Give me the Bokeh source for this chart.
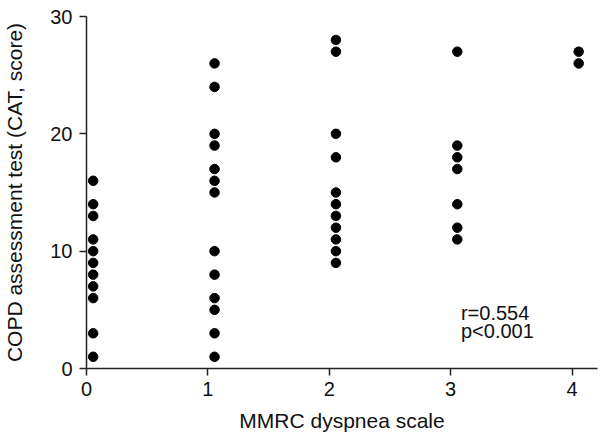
from bokeh.plotting import figure
from bokeh.models import Range1d, Label, FixedTicker
from bokeh.embed import file_html
from bokeh.resources import INLINE

# MMRC dyspnea scale groups and CAT scores
mmrc_groups = [0, 1, 2, 3, 4]
cat_0 = [16, 14, 13, 11, 10, 9, 8, 7, 6, 3, 1]
cat_1 = [26, 24, 20, 19, 17, 16, 15, 10, 8, 6, 5, 3, 1]
cat_2 = [28, 27, 20, 18, 15, 14, 13, 12, 11, 10, 9]
cat_3 = [27, 19, 18, 17, 14, 12, 11]
cat_4 = [27, 26]
x_offset = 0.055  # dots sit just right of each tick
x_ticks = [0, 1, 2, 3, 4]
y_ticks = [0, 10, 20, 30]
stats_lines = ["r=0.554", "p<0.001"]

series = [cat_0, cat_1, cat_2, cat_3, cat_4]
xs, ys = [], []
for g, vals in zip(mmrc_groups, series):
    for v in vals:
        xs.append(g + x_offset)
        ys.append(v)

FONT = "Liberation Sans"

p = figure(width=600, height=438, output_backend="svg", toolbar_location=None,
           x_range=Range1d(0, 4.21), y_range=Range1d(0, 30),
           min_border_left=85, min_border_right=3, min_border_top=16, min_border_bottom=70)
p.outline_line_color = None
p.xgrid.visible = False
p.ygrid.visible = False
p.background_fill_color = "white"

p.scatter(xs, ys, size=9.5, color="black", line_color="black")

for ax in (p.xaxis[0], p.yaxis[0]):
    ax.axis_line_color = "#222222"
    ax.axis_line_width = 1.5
    ax.major_tick_line_color = "#222222"
    ax.major_tick_line_width = 1.5
    ax.major_tick_out = 7
    ax.major_tick_in = 0
    ax.minor_tick_line_color = None
    ax.major_label_text_font = FONT
    ax.major_label_text_font_size = "20px"
    ax.major_label_text_color = "#111111"
    ax.axis_label_text_font = FONT
    ax.axis_label_text_font_size = "21px"
    ax.axis_label_text_font_style = "normal"
    ax.axis_label_text_color = "#111111"

p.xaxis.ticker = FixedTicker(ticks=x_ticks)
p.yaxis.ticker = FixedTicker(ticks=y_ticks)
p.xaxis.axis_label = "MMRC dyspnea scale"
p.yaxis.axis_label = "COPD assessment test (CAT, score)"
p.xaxis.major_label_standoff = 6
p.yaxis.major_label_standoff = 7
p.xaxis.axis_label_standoff = 10
p.yaxis.axis_label_standoff = 21

for i, line in enumerate(stats_lines):
    p.add_layout(Label(x=3.085, y=4.75, y_offset=-18 * i, text=line,
                       text_font=FONT, text_font_size="20px", text_color="#111111",
                       text_baseline="alphabetic"))

open("out.html", "w").write(file_html(p, INLINE))
